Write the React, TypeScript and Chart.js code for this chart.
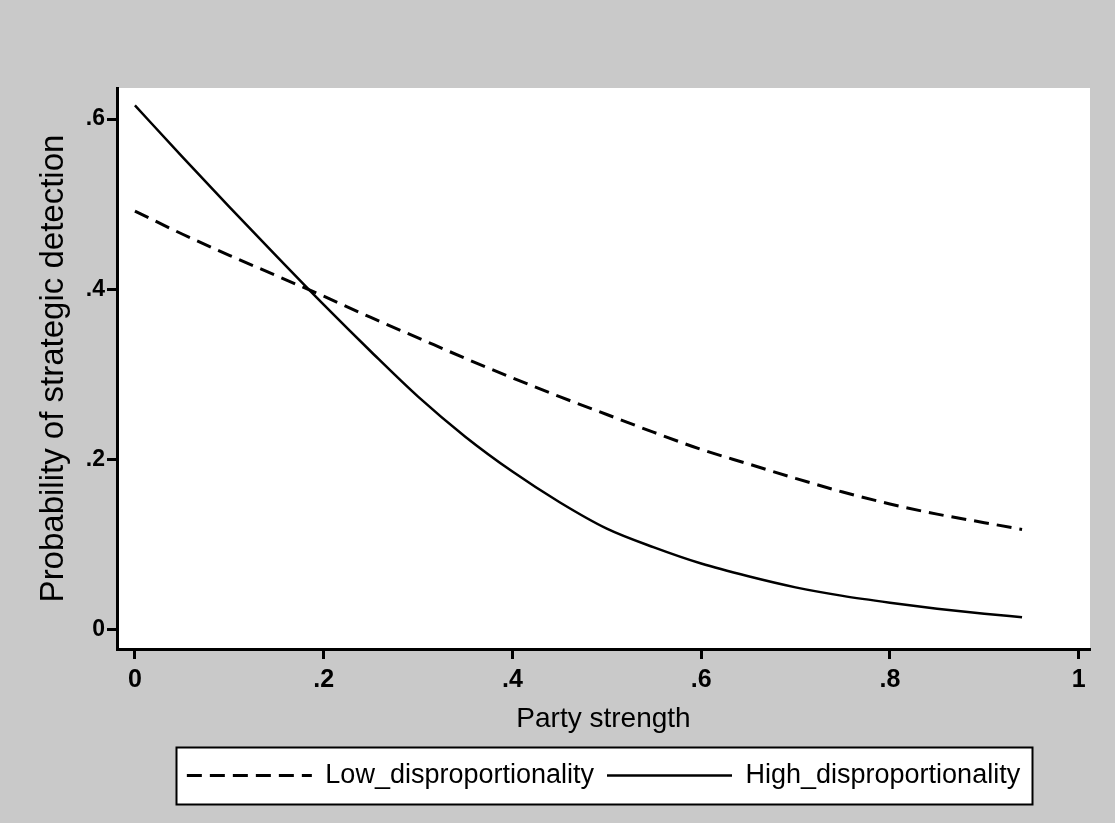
import React, { useEffect, useRef } from "react";
import { Chart, registerables } from "chart.js";

Chart.register(...registerables);

// ---- data ----
const partyStrength = [0, 0.05, 0.1, 0.15, 0.2, 0.25, 0.3, 0.35, 0.4, 0.45, 0.5, 0.55, 0.6, 0.65, 0.7, 0.75, 0.8, 0.85, 0.9, 0.94];
const lowDisproportionality = [0.492, 0.465, 0.44, 0.416, 0.392, 0.367, 0.343, 0.319, 0.296, 0.274, 0.253, 0.232, 0.212, 0.195, 0.178, 0.162, 0.148, 0.136, 0.126, 0.118];
const highDisproportionality = [0.616, 0.556, 0.497, 0.439, 0.382, 0.327, 0.274, 0.227, 0.186, 0.15, 0.119, 0.097, 0.078, 0.063, 0.05, 0.04, 0.032, 0.025, 0.019, 0.015];
const seriesNames = ["Low_disproportionality", "High_disproportionality"];

const xTickValues = [0, 0.2, 0.4, 0.6, 0.8, 1];
const xTickLabels = ["0", ".2", ".4", ".6", ".8", "1"];
const yTickValues = [0, 0.2, 0.4, 0.6];
const yTickLabels = ["0", ".2", ".4", ".6"];

const xTitle = "Party strength";
const yTitle = "Probability of strategic detection";

const FONT = "'Liberation Sans', Arial, Helvetica, sans-serif";

const bgPlugin = {
  id: "bgPlugin",
  beforeDraw(chart: any) {
    const { ctx, width, height, chartArea } = chart;
    ctx.save();
    ctx.fillStyle = "#c9c9c9";
    ctx.fillRect(0, 0, width, height);
    ctx.fillStyle = "#ffffff";
    ctx.fillRect(chartArea.left, chartArea.top, chartArea.right - chartArea.left, chartArea.bottom - chartArea.top);
    const lg = chart.legend;
    if (lg && lg.legendHitBoxes && lg.legendHitBoxes.length) {
      const hb = lg.legendHitBoxes;
      let l = Infinity, r = -Infinity, t = Infinity, b = -Infinity;
      hb.forEach((h: any) => {
        l = Math.min(l, h.left);
        r = Math.max(r, h.left + h.width);
        t = Math.min(t, h.top);
        b = Math.max(b, h.top + h.height);
      });
      const x0 = Math.round(l - 11) + 0.5;
      const x1 = Math.round(r + 12) + 0.5;
      const y0 = Math.round(t - 15) + 0.5;
      const y1 = Math.round(b + 15) + 0.5;
      ctx.fillStyle = "#ffffff";
      ctx.fillRect(x0, y0, x1 - x0, y1 - y0);
      ctx.strokeStyle = "#000";
      ctx.lineWidth = 2;
      ctx.strokeRect(x0, y0, x1 - x0, y1 - y0);
    }
    ctx.restore();
  },
};

export default function App() {
  const ref = useRef<HTMLCanvasElement | null>(null);
  useEffect(() => {
    if (!ref.current) return;
    const chart = new Chart(ref.current, {
      type: "line",
      data: {
        datasets: [
          {
            label: seriesNames[0],
            data: partyStrength.map((x, i) => ({ x, y: lowDisproportionality[i] })),
            borderColor: "#000",
            backgroundColor: "#000",
            borderWidth: 3,
            borderDash: [15, 8],
            pointRadius: 0,
            cubicInterpolationMode: "monotone",
            fill: false,
          },
          {
            label: seriesNames[1],
            data: partyStrength.map((x, i) => ({ x, y: highDisproportionality[i] })),
            borderColor: "#000",
            backgroundColor: "#000",
            borderWidth: 2.5,
            pointRadius: 0,
            cubicInterpolationMode: "monotone",
            fill: false,
          },
        ],
      },
      options: {
        animation: false,
        responsive: false,
        maintainAspectRatio: false,
        layout: { padding: { left: 0, right: 25, top: 88, bottom: 24 } },
        plugins: {
          tooltip: { enabled: false },
          legend: {
            display: true,
            position: "bottom",
            fullSize: false,
            labels: {
              usePointStyle: true,
              pointStyle: "line",
              pointStyleWidth: 125,
              color: "#000",
              padding: 13,
              font: { family: FONT, size: 27 },
              generateLabels: (c: any) => {
                const items = (Chart as any).defaults.plugins.legend.labels.generateLabels(c);
                return items.map((it: any) => {
                  const ds = c.data.datasets[it.datasetIndex];
                  return {
                    ...it,
                    lineDash: ds.borderDash || [],
                    lineWidth: ds.borderWidth,
                    strokeStyle: "#000",
                    fillStyle: "#000",
                    pointStyle: "line",
                  };
                });
              },
            },
          },
        },
        scales: {
          x: {
            type: "linear",
            min: -0.019,
            max: 1.012,
            afterFit: (s: any) => {
              s.height = 100;
            },
            afterBuildTicks: (s: any) => {
              s.ticks = xTickValues.map((v) => ({ value: v }));
            },
            ticks: {
              autoSkip: false,
              maxRotation: 0,
              padding: 6,
              color: "#000",
              font: { family: FONT, size: 25, weight: "bold" },
              callback: (v: any) => {
                const i = xTickValues.findIndex((t) => Math.abs(t - Number(v)) < 1e-9);
                return i >= 0 ? xTickLabels[i] : "";
              },
            },
            grid: {
              display: true,
              drawOnChartArea: false,
              drawTicks: true,
              tickLength: 10,
              tickWidth: 3,
              tickColor: "#000",
              color: "#000",
            },
            border: { display: true, color: "#000", width: 3 },
            title: {
              display: true,
              text: xTitle,
              color: "#000",
              font: { family: FONT, size: 28 },
              padding: { top: 0, bottom: 13 },
            },
          },
          y: {
            type: "linear",
            min: -0.0224,
            max: 0.6365,
            afterFit: (s: any) => {
              s.width = 117;
            },
            afterBuildTicks: (s: any) => {
              s.ticks = yTickValues.map((v) => ({ value: v }));
            },
            ticks: {
              autoSkip: false,
              padding: 2,
              color: "#000",
              font: { family: FONT, size: 23, weight: "bold" },
              callback: (v: any) => {
                const i = yTickValues.findIndex((t) => Math.abs(t - Number(v)) < 1e-9);
                return i >= 0 ? yTickLabels[i] : "";
              },
            },
            grid: {
              display: true,
              drawOnChartArea: false,
              drawTicks: true,
              tickLength: 10,
              tickWidth: 3,
              tickColor: "#000",
              color: "#000",
            },
            border: { display: true, color: "#000", width: 3 },
            title: {
              display: true,
              text: yTitle,
              color: "#000",
              font: { family: FONT, size: 33 },
              padding: { top: 34, bottom: 0 },
            },
          },
        },
      },
      plugins: [bgPlugin],
    } as any);
    return () => chart.destroy();
  }, []);

  return (
    <div style={{ position: "fixed", left: 0, top: 0, width: 1115, height: 823, background: "#c9c9c9" }}>
      <canvas ref={ref} width={1115} height={823} style={{ width: 1115, height: 823, display: "block" }} />
    </div>
  );
}
